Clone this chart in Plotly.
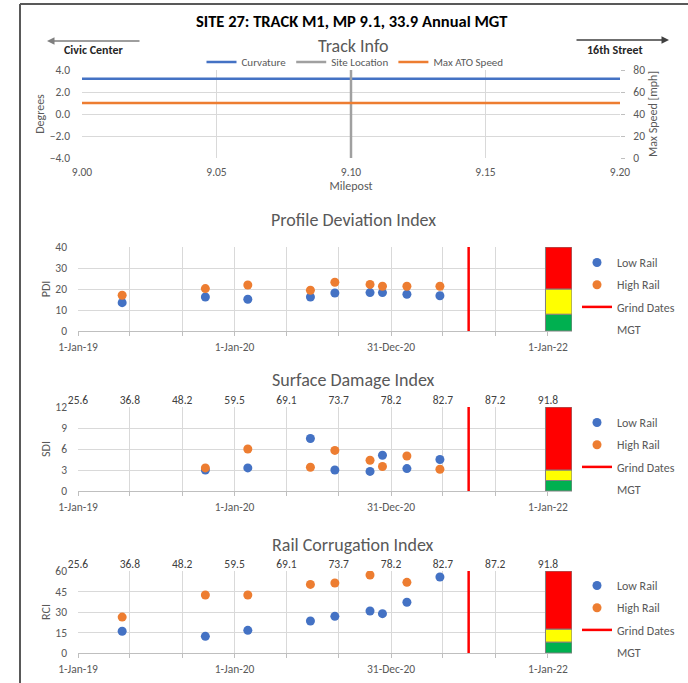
import plotly.graph_objects as go

W, H = 688, 683


def X(px):
    return px / W


def Y(py):
    return 1 - py / H


FONT = "Carlito, Calibri, Lato, sans-serif"
GRAY = "#595959"
GRID = "#D9D9D9"
BLUE = "#4472C4"
ORANGE = "#ED7D31"
TICK = dict(size=11.5, color=GRAY)
ATITLE = dict(size=12, color=GRAY)

# ---------------- Track info data ----------------
milepost = [9.00, 9.20]
curvature = [3.2, 3.2]
site_mp = [9.10, 9.10]
site_deg = [-4.0, 4.0]
max_ato_speed = [50, 50]
mp_ticks = [9.00, 9.05, 9.10, 9.15, 9.20]

# ---------------- Index data ----------------
survey_dates = ['2019-04-14', '2019-10-25', '2020-02-01', '2020-06-26', '2020-08-22',
                '2020-11-12', '2020-12-11', '2021-02-06', '2021-04-24']
pdi_low = [13.5, 16.2, 15.1, 16.2, 18.1, 18.3, 18.3, 17.5, 16.8]
pdi_high = [17.0, 20.2, 21.9, 19.4, 23.2, 22.2, 21.3, 21.3, 21.3]
sdi_low = [None, 3.0, 3.3, 7.5, 3.0, 2.8, 5.1, 3.2, 4.5]
sdi_high = [None, 3.3, 6.0, 3.4, 5.8, 4.4, 3.5, 5.0, 3.1]
rci_low = [15.9, 12.2, 16.6, 23.4, 26.8, 30.7, 28.8, 37.1, 55.6]
rci_high = [26.3, 42.4, 42.4, 50.2, 51.2, 57.1, None, 51.7, None]
grind_date = '2021-06-30'

grid_dates = ['2019-01-01', '2019-05-02', '2019-09-01', '2020-01-01', '2020-05-01',
              '2020-08-31', '2020-12-31', '2021-05-01', '2021-08-31', '2022-01-01']
date_labels = ['1-Jan-19', '', '', '1-Jan-20', '', '', '31-Dec-20', '', '', '1-Jan-22']
mgt_labels = ['25.6', '36.8', '48.2', '59.5', '69.1', '73.7', '78.2', '82.7', '87.2', '91.8']

zone_date = '2022-01-26'
zone_colors = ['#00B050', '#FFFF00', '#FF0000']
pdi_zones = [8, 20, 40]
sdi_zones = [1.5, 3, 12]
rci_zones = [8, 17.5, 60]

x_range = ['2019-01-01', '2022-02-26']
DAY_MS = 86400000

fig = go.Figure()

# ---------------- Track info traces ----------------
fig.add_trace(go.Scatter(x=milepost, y=curvature, mode='lines', name='Curvature',
                         line=dict(color=BLUE, width=2.5), xaxis='x', yaxis='y', legend='legend'))
fig.add_trace(go.Scatter(x=site_mp, y=site_deg, mode='lines', name='Site Location',
                         line=dict(color='#A0A0A0', width=2.5), xaxis='x', yaxis='y', legend='legend'))
fig.add_trace(go.Scatter(x=milepost, y=max_ato_speed, mode='lines', name='Max ATO Speed',
                         line=dict(color=ORANGE, width=2.5), xaxis='x', yaxis='y2', legend='legend'))

layout_axes = {}
layout_axes['xaxis'] = dict(domain=[X(82), X(620)], anchor='y', range=[9.0, 9.2], automargin=False,
                            tickmode='array', tickvals=mp_ticks, ticktext=['%.2f' % v for v in mp_ticks],
                            showgrid=True, gridcolor=GRID, zeroline=False, showline=False,
                            tickfont=TICK, ticklabelstandoff=5,
                            title=dict(text='Milepost', font=ATITLE, standoff=4))
layout_axes['yaxis'] = dict(domain=[Y(158), Y(70)], anchor='x', range=[-4, 4], dtick=2, automargin=False,
                            tickformat='.1f', showgrid=True, gridcolor=GRID, zeroline=False,
                            tickfont=TICK, ticklabelstandoff=11,
                            title=dict(text='Degrees', font=ATITLE, standoff=2))
layout_axes['yaxis2'] = dict(overlaying='y', side='right', anchor='x', range=[0, 80], dtick=20,
                             automargin=False,
                             showgrid=False, zeroline=False, ticks='outside', ticklen=4, tickcolor='#BFBFBF',
                             tickfont=TICK, ticklabelstandoff=6,
                             title=dict(text='Max Speed [mph]', font=ATITLE, standoff=4))

# ---------------- Index charts ----------------
charts = [
    ('x2', 'y3', None, 'legend2', pdi_low, pdi_high, pdi_zones, 10, 247, 331, 'PDI',
     'Profile Deviation Index', 220, 248),
    ('x3', 'y4', 'x5', 'legend3', sdi_low, sdi_high, sdi_zones, 3, 407, 491, 'SDI',
     'Surface Damage Index', 380, 408),
    ('x4', 'y5', 'x6', 'legend4', rci_low, rci_high, rci_zones, 15, 571, 653, 'RCI',
     'Rail Corrugation Index', 545, 571),
]

annotations = []
legends = {}

for (xa, ya, xtop, leg, low, high, zones, dt, ytop, ybot, ytitle, title, title_y, leg_y) in charts:
    ymax = zones[-1]
    base = 0
    for h, c in zip(zones, zone_colors):
        fig.add_trace(go.Bar(x=[zone_date], y=[h - base], base=[base], width=[61.7 * DAY_MS],
                             marker=dict(color=c, line=dict(color='#7F7F7F', width=1)),
                             showlegend=False, hoverinfo='skip', xaxis=xa, yaxis=ya))
        base = h
    fig.add_trace(go.Scatter(x=survey_dates, y=low, mode='markers', name='Low Rail',
                             marker=dict(color=BLUE, size=9), xaxis=xa, yaxis=ya,
                             legend=leg, legendgroup=leg + 'a'))
    fig.add_trace(go.Scatter(x=survey_dates, y=high, mode='markers', name='High Rail',
                             marker=dict(color=ORANGE, size=9), xaxis=xa, yaxis=ya,
                             legend=leg, legendgroup=leg + 'b'))
    fig.add_trace(go.Scatter(x=[grind_date, grind_date], y=[0, ymax], mode='lines', name='Grind Dates',
                             line=dict(color='#FF0000', width=2.5), xaxis=xa, yaxis=ya,
                             legend=leg, legendgroup=leg + 'c'))
    fig.add_trace(go.Scatter(x=grid_dates, y=[0] * len(grid_dates), mode='markers', name='MGT',
                             marker=dict(color='rgba(0,0,0,0)', size=8), hoverinfo='skip',
                             xaxis=(xtop if xtop else xa), yaxis=ya,
                             legend=leg, legendgroup=leg + 'd'))

    xn = 'xaxis' + xa[1:]
    yn = 'yaxis' + ya[1:]
    layout_axes[xn] = dict(domain=[X(78), X(572)], anchor=ya, type='date', range=x_range,
                           automargin=False,
                           tickmode='array', tickvals=grid_dates, ticktext=date_labels,
                           showgrid=True, gridcolor=GRID, zeroline=False,
                           showline=True, linecolor='#BFBFBF', ticks='outside', ticklen=4,
                           tickcolor='#BFBFBF', tickfont=TICK, ticklabelstandoff=1)
    layout_axes[yn] = dict(domain=[Y(ybot), Y(ytop)], anchor=xa, range=[0, ymax], dtick=dt,
                           automargin=False,
                           showgrid=True, gridcolor=GRID, zeroline=False,
                           tickfont=TICK, ticklabelstandoff=10,
                           title=dict(text=ytitle, font=ATITLE, standoff=2))
    if xtop:
        layout_axes['xaxis' + xtop[1:]] = dict(overlaying=xa, side='top', anchor=ya, type='date',
                                               automargin=False,
                                               range=x_range, tickmode='array', tickvals=grid_dates,
                                               ticktext=mgt_labels, showgrid=False, zeroline=False,
                                               ticks='', tickfont=dict(size=11.5, color='#404040'))
    annotations.append(dict(text=title, x=X(353), y=Y(title_y), xref='paper', yref='paper',
                            xanchor='center', yanchor='middle', showarrow=False,
                            font=dict(size=18, color=GRAY, family=FONT)))
    legends[leg] = dict(x=X(577), xanchor='left', y=Y(leg_y), yanchor='top',
                        bgcolor='rgba(0,0,0,0)', font=dict(size=12, color=GRAY, family=FONT),
                        xref='paper', yref='paper', traceorder='grouped', tracegroupgap=3.2,
                        itemclick=False, itemdoubleclick=False)

annotations += [
    dict(text='<b>SITE 27: TRACK M1, MP 9.1, 33.9 Annual MGT</b>', x=X(352), y=Y(21),
         xref='paper', yref='paper', xanchor='center', yanchor='middle', showarrow=False,
         font=dict(size=16.5, color='#000000', family=FONT)),
    dict(text='Track Info', x=X(353), y=Y(46), xref='paper', yref='paper', xanchor='center',
         yanchor='middle', showarrow=False, font=dict(size=18, color=GRAY, family=FONT)),
    dict(text='<b>Civic Center</b>', x=X(93), y=Y(50), xref='paper', yref='paper', xanchor='center',
         yanchor='middle', showarrow=False, font=dict(size=12, color='#262626', family=FONT)),
    dict(text='<b>16th Street</b>', x=X(615), y=Y(50), xref='paper', yref='paper', xanchor='center',
         yanchor='middle', showarrow=False, font=dict(size=12, color='#262626', family=FONT)),
    dict(text='', x=X(47), y=Y(41), xref='paper', yref='paper', ax=94, ay=0, showarrow=True,
         arrowhead=2, arrowsize=1, arrowwidth=1.5, arrowcolor='#7F7F7F'),
    dict(text='', x=X(669), y=Y(40), xref='paper', yref='paper', ax=-94, ay=0, showarrow=True,
         arrowhead=2, arrowsize=1, arrowwidth=1.5, arrowcolor='#404040'),
]

shapes = [
    dict(type='line', xref='paper', yref='paper', x0=X(20), x1=1, y0=Y(4), y1=Y(4),
         line=dict(color='#595959', width=2)),
    dict(type='line', xref='paper', yref='paper', x0=X(20), x1=X(20), y0=Y(4), y1=0,
         line=dict(color='#595959', width=2)),
]

fig.update_layout(
    width=W, height=H, margin=dict(l=0, r=0, t=0, b=0, autoexpand=False),
    paper_bgcolor='white', plot_bgcolor='white',
    font=dict(family=FONT, color=GRAY),
    barmode='overlay', showlegend=True,
    annotations=annotations, shapes=shapes,
    legend=dict(orientation='h', x=X(355), xanchor='center', y=Y(62), yanchor='middle',
                bgcolor='rgba(0,0,0,0)', font=dict(size=11, color=GRAY, family=FONT),
                itemclick=False, itemdoubleclick=False),
    **legends,
    **layout_axes,
)

fig.write_html("out.html", config={'displayModeBar': False},
               post_script="document.body.style.margin='0px';")
